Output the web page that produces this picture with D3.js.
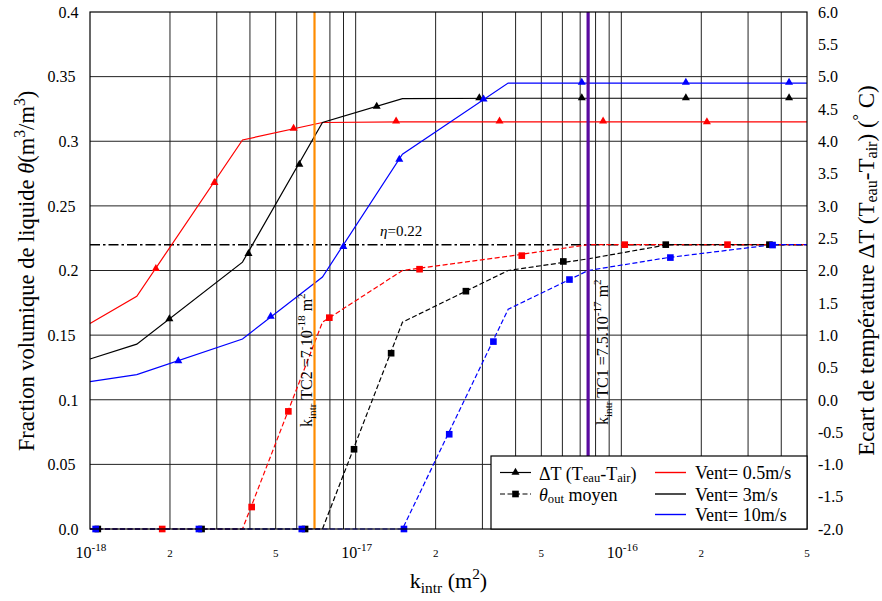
<!DOCTYPE html>
<html><head><meta charset="utf-8">
<script src="https://cdn.jsdelivr.net/npm/d3@7"></script>
<style>
body{margin:0;background:#fff}
svg text{font-family:"Liberation Serif","Times New Roman",serif;fill:#000;white-space:pre}
</style>
</head><body>
<svg id="c" width="882" height="601"></svg>
<script>
// ---------- DATA ----------
const kUnit = 1e-18;
// line vertices (k in units of 1e-18 m^2)
const kLine = [1, 1.5, 3.75, 7.5, 15, 37.5, 75, 150, 375, 500];
// Delta T (right axis) line values
const dtLine05 = [1.18, 1.60, 4.02, 4.29, 4.30, 4.30, 4.30, 4.30, 4.30, 4.30];
const dtLine3  = [0.63, 0.86, 2.13, 4.29, 4.66, 4.665, 4.665, 4.665, 4.665, 4.665];
const dtLine10 = [0.28, 0.39, 0.94, 1.90, 3.80, 4.90, 4.90, 4.90, 4.90, 4.90];
// theta_out moyen (left axis) line values
const thLine05 = [0, 0, 0, 0.160, 0.200, 0.211, 0.220, 0.220, 0.220, 0.220];
const thLine3  = [0, 0, 0, 0, 0.160, 0.200, 0.209, 0.220, 0.220, 0.220];
const thLine10 = [0, 0, 0, 0, 0, 0.170, 0.200, 0.210, 0.220, 0.220];
// triangle markers (Delta T)
const dtMarkK05 = [1.77, 2.94, 5.84, 14.2, 34.8, 85.4, 210];
const dtMark05  = [2.03, 3.36, 4.20, 4.31, 4.31, 4.31, 4.30];
const dtMarkK3  = [1.99, 3.95, 6.14, 12.0, 29.2, 71.0, 175, 428];
const dtMark3   = [1.25, 2.26, 3.64, 4.54, 4.67, 4.67, 4.67, 4.67];
const dtMarkK10 = [2.15, 4.79, 8.99, 14.6, 30.3, 71.0, 175, 428];
const dtMark10  = [0.60, 1.29, 2.37, 3.72, 4.65, 4.91, 4.91, 4.91];
// square markers (theta)
const thMarkK05 = [1.87, 4.06, 5.58, 7.96, 17.4, 42.2, 103, 251];
const thMark05  = [0, 0.017, 0.091, 0.1635, 0.201, 0.2115, 0.220, 0.220];
const thMarkK3  = [1.07, 2.63, 6.45, 9.86, 13.6, 26.0, 60.5, 147, 361];
const thMark3   = [0, 0, 0, 0.0617, 0.136, 0.184, 0.207, 0.220, 0.220];
const thMarkK10 = [1.05, 2.57, 6.27, 15.2, 22.5, 33.0, 63.8, 153, 371];
const thMark10  = [0, 0, 0, 0, 0.0733, 0.145, 0.193, 0.210, 0.2197];
// reference lines
const eta = 0.22;
const kTC2 = 7;      // 7e-18
const kTC1 = 75;     // 7.5e-17
// ticks
const thetaTicks  = [0, 0.05, 0.1, 0.15, 0.2, 0.25, 0.3, 0.35, 0.4];
const thetaLabels = ["0.0","0.05","0.1","0.15","0.2","0.25","0.3","0.35","0.4"];
const dtTicks  = [-2,-1.5,-1,-0.5,0,0.5,1,1.5,2,2.5,3,3.5,4,4.5,5,5.5,6];
const dtLabels = ["-2.0","-1.5","-1.0","-0.5","0.0","0.5","1.0","1.5","2.0","2.5","3.0","3.5","4.0","4.5","5.0","5.5","6.0"];
const kMajor = [1, 10, 100];
const kMajorExp = ["-18","-17","-16"];
const kMinor = [2, 5, 20, 50, 200, 500];
const kMinorLabels = ["2","5","2","5","2","5"];
const windNames = ["Vent= 0.5m/s","Vent= 3m/s","Vent= 10m/s"];
const windColors = ["#ff0000","#000000","#0000ff"];

// ---------- LAYOUT ----------
const L = 90, R = 807, T = 12, B = 529;
const svg = d3.select("#c");
const x = d3.scaleLog().domain([1*kUnit, 500*kUnit]).range([L, R]);
const yL = d3.scaleLinear().domain([0, 0.4]).range([B, T]);
const yR = d3.scaleLinear().domain([-2, 6]).range([B, T]);

function rich(sel, parts, fs, subShift) {
  let cur = 0;
  const sb = subShift === undefined ? 0.22 : subShift;
  for (const p of parts) {
    let shift = 0, size = fs;
    if (p[1] === "sup") { shift = -0.42 * fs; size = 0.7 * fs; }
    if (p[1] === "sub") { shift = sb * fs; size = 0.7 * fs; }
    const ts = sel.append("tspan").attr("dy", shift - cur).attr("font-size", size).text(p[0]);
    if (p[1] === "it") ts.attr("font-style", "italic");
    cur = shift;
  }
}

// grid
const grid = svg.append("g");
x.ticks().filter(v => x(v) > L + 0.5 && x(v) < R - 0.5).forEach(v => {
  grid.append("line").attr("x1", x(v)).attr("x2", x(v)).attr("y1", T).attr("y2", B)
    .attr("stroke", "#222").attr("stroke-width", 1);
});
thetaTicks.slice(1, -1).forEach(v => {
  grid.append("line").attr("x1", L).attr("x2", R).attr("y1", yL(v)).attr("y2", yL(v))
    .attr("stroke", "#222").attr("stroke-width", 1);
});

// eta line
svg.append("line").attr("x1", L).attr("x2", R).attr("y1", yL(eta)).attr("y2", yL(eta))
  .attr("stroke", "#000").attr("stroke-width", 1.5).attr("stroke-dasharray", "10,3,2.5,3");
svg.append("text").attr("x", 380).attr("y", 236).attr("font-size", 15)
  .call(s => rich(s, [["η","it"],["=0.22",""]], 15));

// lines
const lineG = svg.append("g");
const mkLine = (yScale) => d3.line().x(d => x(d[0] * kUnit)).y(d => yScale(d[1]));
const dtLines = [dtLine05, dtLine3, dtLine10];
const thLines = [thLine05, thLine3, thLine10];
[0,1,2].forEach(i => {
  lineG.append("path").attr("d", mkLine(yL)(kLine.map((k, j) => [k, thLines[i][j]])))
    .attr("fill", "none").attr("stroke", windColors[i]).attr("stroke-width", 1.2)
    .attr("stroke-dasharray", "5,2.5");
  lineG.append("path").attr("d", mkLine(yR)(kLine.map((k, j) => [k, dtLines[i][j]])))
    .attr("fill", "none").attr("stroke", windColors[i]).attr("stroke-width", 1.2);
});

// vertical TC lines
svg.append("line").attr("x1", x(kTC2*kUnit)).attr("x2", x(kTC2*kUnit)).attr("y1", T).attr("y2", B)
  .attr("stroke", "#ff8c00").attr("stroke-width", 2.2);
svg.append("line").attr("x1", x(kTC1*kUnit)).attr("x2", x(kTC1*kUnit)).attr("y1", T).attr("y2", B)
  .attr("stroke", "#5a0aa0").attr("stroke-width", 3.2);

// markers
const tri = d3.symbol().type(d3.symbolTriangle).size(28);
const sq = d3.symbol().type(d3.symbolSquare).size(44);
const dtMK = [dtMarkK05, dtMarkK3, dtMarkK10], dtMV = [dtMark05, dtMark3, dtMark10];
const thMK = [thMarkK05, thMarkK3, thMarkK10], thMV = [thMark05, thMark3, thMark10];
const mG = svg.append("g");
[0,1,2].forEach(i => {
  thMK[i].forEach((k, j) => {
    mG.append("path").attr("d", sq()).attr("fill", windColors[i])
      .attr("transform", `translate(${x(k*kUnit)},${yL(thMV[i][j])})`);
  });
  dtMK[i].forEach((k, j) => {
    mG.append("path").attr("d", tri()).attr("fill", windColors[i])
      .attr("transform", `translate(${x(k*kUnit)},${yR(dtMV[i][j])})`);
  });
});

// TC annotations
svg.append("text").attr("transform", "translate(312,427) rotate(-90)").attr("font-size", 16)
  .call(s => rich(s, [["k",""],["intr","sub"],[" TC2 =7.10",""],["-18","sup"],[" m",""],["2","sup"]], 16));
svg.append("text").attr("transform", "translate(608,425) rotate(-90)").attr("font-size", 16)
  .call(s => rich(s, [["k",""],["intr","sub"],[" TC1 =7.5.10",""],["-17","sup"],[" m",""],["2","sup"]], 16));

// frame
svg.append("rect").attr("x", L).attr("y", T).attr("width", R - L).attr("height", B - T)
  .attr("fill", "none").attr("stroke", "#000").attr("stroke-width", 1.2);

// left axis labels
const axL = svg.append("g").attr("transform", `translate(${L},0)`)
  .call(d3.axisLeft(yL).tickValues(thetaTicks).tickSize(0).tickFormat((d, i) => thetaLabels[i]));
axL.select(".domain").remove();
axL.selectAll("text").attr("font-family", null).attr("font-size", 16)
  .attr("text-anchor", "middle")
  .attr("x", (d, i) => (thetaLabels[i].length === 3 ? 68.5 : 61.5) - L)
  .attr("dy", "0.33em");

// right axis labels
const axR = svg.append("g").attr("transform", `translate(${R},0)`)
  .call(d3.axisRight(yR).tickValues(dtTicks).tickSize(0).tickFormat((d, i) => dtLabels[i]));
axR.select(".domain").remove();
axR.selectAll("text").attr("font-family", null).attr("font-size", 16)
  .attr("text-anchor", "start").attr("x", 818 - R).attr("dy", "0.33em");

// bottom axis labels
kMajor.forEach((k, i) => {
  svg.append("text").attr("x", x(k*kUnit) + 1).attr("y", 558).attr("text-anchor", "middle")
    .call(s => rich(s, [["10",""],[kMajorExp[i],"sup"]], 16));
});
kMinor.forEach((k, i) => {
  svg.append("text").attr("x", x(k*kUnit)).attr("y", 557).attr("text-anchor", "middle")
    .attr("font-size", 11).text(kMinorLabels[i]);
});

// axis titles
svg.append("text").attr("x", 448.5).attr("y", 588).attr("text-anchor", "middle").attr("font-size", 22)
  .call(s => rich(s, [["k",""],["intr","sub"],[" (m",""],["2","sup"],[")",""]], 22));
svg.append("text").attr("transform", "translate(34,271) rotate(-90)").attr("text-anchor", "middle")
  .attr("font-size", 22.5)
  .call(s => rich(s, [["Fraction volumique de liquide ",""],["θ","it"],["(m",""],["3","sup"],["/m",""],["3","sup"],[")",""]], 22.5));
svg.append("text").attr("transform", "translate(874,270.5) rotate(-90)").attr("text-anchor", "middle")
  .attr("font-size", 23)
  .call(s => rich(s, [["Ecart de température ΔT (T",""],["eau","sub"],["-T",""],["air","sub"],[") (",""],["°","sup"],[" C)",""]], 23, 0.14));

// legend
const lg = svg.append("g");
lg.append("rect").attr("x", 491).attr("y", 456).attr("width", R - 491).attr("height", B - 456)
  .attr("fill", "#fff").attr("stroke", "#000").attr("stroke-width", 1.2);
const rowY = [472.5, 494, 514.5];
lg.append("line").attr("x1", 500).attr("x2", 531).attr("y1", rowY[0]).attr("y2", rowY[0]).attr("stroke", "#000").attr("stroke-width", 1.2);
lg.append("path").attr("d", tri()).attr("transform", `translate(515.5,${rowY[0]})`);
lg.append("line").attr("x1", 500).attr("x2", 531).attr("y1", rowY[1]).attr("y2", rowY[1]).attr("stroke", "#000").attr("stroke-width", 1.2).attr("stroke-dasharray", "5,2.5");
lg.append("path").attr("d", sq()).attr("transform", `translate(515.5,${rowY[1]})`);
lg.append("text").attr("x", 539).attr("y", rowY[0] + 7).attr("font-size", 18)
  .call(s => rich(s, [["ΔT (T",""],["eau","sub"],["-T",""],["air","sub"],[")",""]], 18, 0.15));
lg.append("text").attr("x", 539).attr("y", rowY[1] + 6.5).attr("font-size", 18)
  .call(s => rich(s, [["θ","it"],["out","sub"],[" moyen",""]], 18, 0.15));
windNames.forEach((n, i) => {
  lg.append("line").attr("x1", 655).attr("x2", 686).attr("y1", rowY[i]).attr("y2", rowY[i])
    .attr("stroke", windColors[i]).attr("stroke-width", 1.4);
  lg.append("text").attr("x", 695).attr("y", rowY[i] + 6.5).attr("font-size", 18).text(n);
});
</script>
</body></html>
